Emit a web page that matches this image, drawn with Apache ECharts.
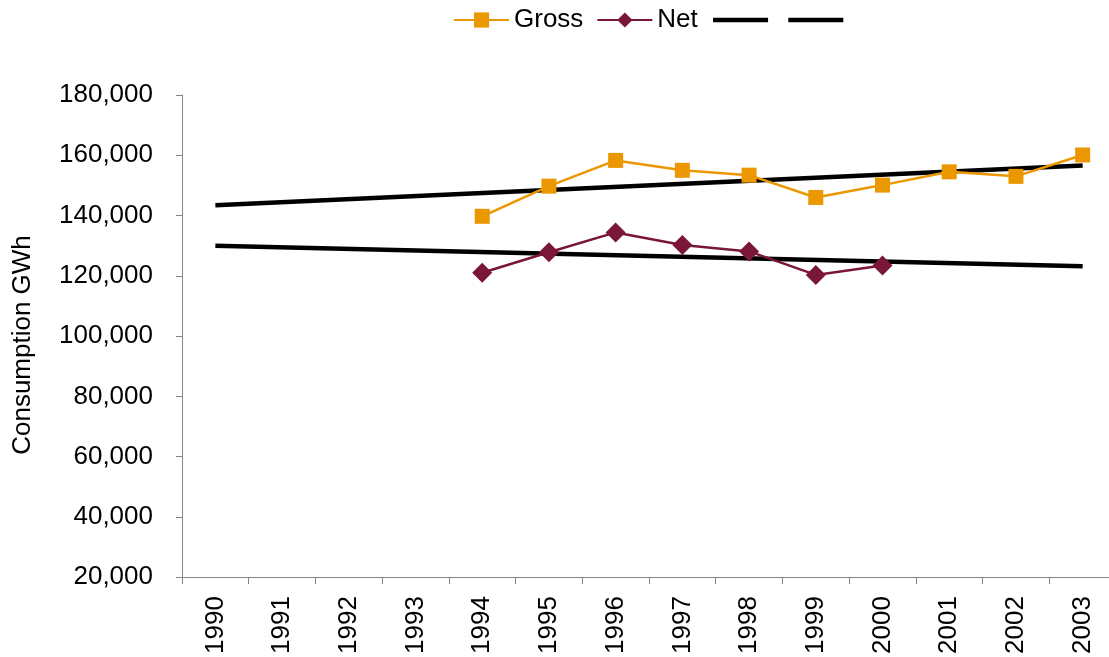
<!DOCTYPE html>
<html>
<head>
<meta charset="utf-8">
<title>Electricity consumption</title>
<script src="https://cdn.jsdelivr.net/npm/echarts@6/dist/echarts.min.js"></script>
<style>
  html, body { margin: 0; padding: 0; background: #ffffff; overflow: hidden; }
  /* the plot runs a few pixels past the right edge of the page */
  #chart { width: 1116px; height: 657px; }
</style>
</head>
<body>
<div id="chart"></div>
<script>
// Years on the category axis
const years = ['1990', '1991', '1992', '1993', '1994', '1995', '1996',
               '1997', '1998', '1999', '2000', '2001', '2002', '2003'];

// Consumption in GWh (no data before 1994; net ends in 2000)
const gross = [null, null, null, null, 139750, 149750, 158300,
               155000, 153400, 146000, 150100, 154500, 153000, 160100];
const net   = [null, null, null, null, 121000, 127800, 134400,
               130200, 128100, 120300, 123400, null, null, null];

// Linear trend lines: values at the first and last year only
const grossTrend = [143400, null, null, null, null, null, null,
                    null, null, null, null, null, null, 156600];
const netTrend   = [130000, null, null, null, null, null, null,
                    null, null, null, null, null, null, 123200];

// Value axis range
const yMin = 20000, yMax = 180000, yStep = 20000;

const FONT = '"Liberation Sans", Arial, sans-serif';
const ORANGE = '#EB9700';
const MAROON = '#7A1638';
const AXIS = '#858585';

const chart = echarts.init(document.getElementById('chart'), null, { renderer: 'canvas' });

const fmt = v => v.toLocaleString('en-US');

// Legend entries for the two trend lines: thick black line, no marker
const trendLegend = name => ({
  name: name,
  itemStyle: { opacity: 0 },
  lineStyle: { color: '#000', width: 4.5 }
});

chart.setOption({
  animation: false,
  backgroundColor: '#ffffff',
  textStyle: { fontFamily: FONT, color: '#000' },
  legend: {
    left: 453,
    top: 7,
    padding: 0,
    itemWidth: 55,
    itemHeight: 19,
    itemGap: 13,
    textStyle: { fontFamily: FONT, fontSize: 26, color: '#000' },
    data: ['Gross', 'Net', trendLegend('\u200b'), trendLegend('\u200b\u200b')]
  },
  grid: { left: 182, right: 0, top: 95, bottom: 74, containLabel: false },
  graphic: [{
    type: 'text',
    x: 23,
    y: 345,
    rotation: Math.PI / 2,
    style: {
      text: 'Consumption GWh',
      font: '26px ' + FONT,
      fill: '#000',
      align: 'center',
      verticalAlign: 'middle'
    }
  }],
  xAxis: {
    type: 'category',
    data: years,
    boundaryGap: true,
    axisLine: { lineStyle: { color: AXIS, width: 1 } },
    axisTick: { show: true, length: 7, alignWithLabel: false, lineStyle: { color: AXIS } },
    axisLabel: {
      rotate: 90, margin: 19, fontSize: 26, fontFamily: FONT, color: '#000', interval: 0
    },
    splitLine: { show: false }
  },
  yAxis: {
    type: 'value',
    min: yMin, max: yMax, interval: yStep,
    axisLine: { show: true, lineStyle: { color: AXIS, width: 1 } },
    axisTick: { show: true, length: 6, lineStyle: { color: AXIS } },
    axisLabel: { fontSize: 26, fontFamily: FONT, color: '#000', margin: 29, formatter: fmt },
    splitLine: { show: false }
  },
  series: [
    {
      name: '\u200b', type: 'line', data: grossTrend, connectNulls: true,
      symbol: 'none', lineStyle: { color: '#000', width: 4.5 }, itemStyle: { color: '#000' }, z: 2
    },
    {
      name: '\u200b\u200b', type: 'line', data: netTrend, connectNulls: true,
      symbol: 'none', lineStyle: { color: '#000', width: 4.5 }, itemStyle: { color: '#000' }, z: 2
    },
    {
      name: 'Gross', type: 'line', data: gross,
      symbol: 'rect', symbolSize: 15,
      lineStyle: { color: ORANGE, width: 2.5 }, itemStyle: { color: ORANGE }, z: 3
    },
    {
      name: 'Net', type: 'line', data: net,
      symbol: 'diamond', symbolSize: 20,
      lineStyle: { color: MAROON, width: 2.5 }, itemStyle: { color: MAROON }, z: 3
    }
  ]
});
</script>
</body>
</html>
